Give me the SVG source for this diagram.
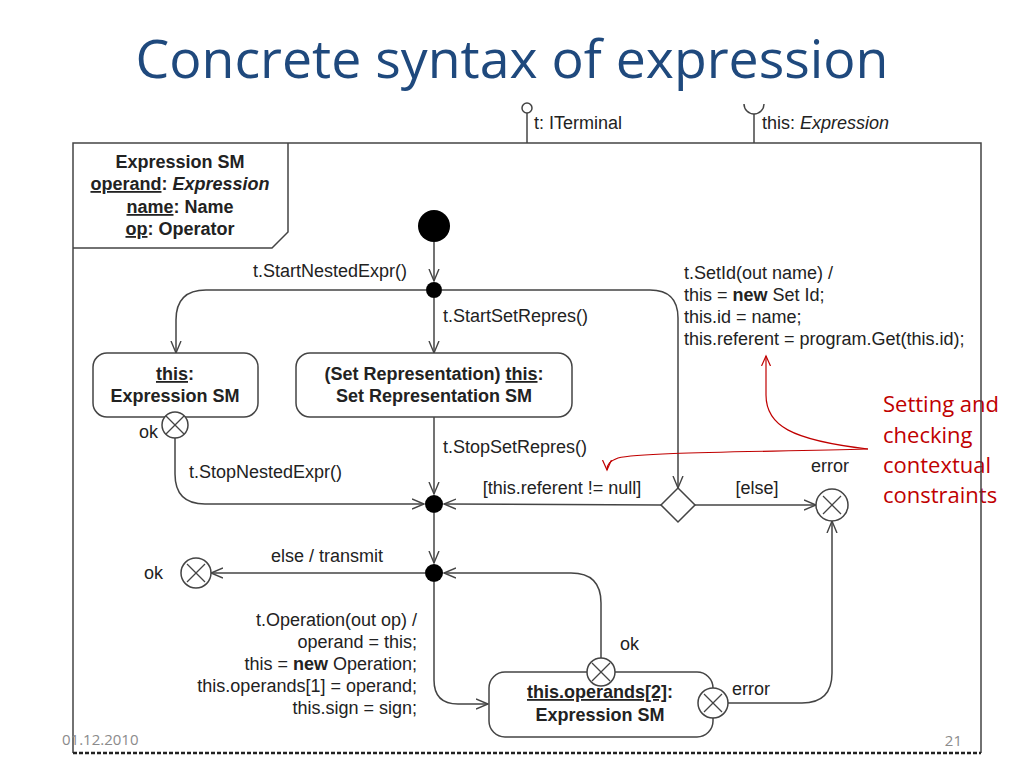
<svg xmlns="http://www.w3.org/2000/svg" width="1024" height="768" viewBox="0 0 1024 768">
<style>
.t{font-family:"Liberation Sans",Arial,sans-serif;font-size:18px;fill:#222}
.b{font-weight:bold}
.i{font-style:italic}
.u{text-decoration:underline}
.ln{fill:none;stroke:#444;stroke-width:1.5}
.ar{fill:none;stroke:#444;stroke-width:1.5;marker-end:url(#arr)}
.st{fill:#fff;stroke:#444;stroke-width:1.5}
.dot{fill:#000}
.red{font-family:"Open Sans","Noto Sans",sans-serif;font-size:22px;fill:#C00000}
.rl{fill:none;stroke:#C00000;stroke-width:1.2;marker-end:url(#rarr)}
.ft{font-family:"Open Sans","Noto Sans",sans-serif;font-size:15px;fill:#8B8B8B}
</style>
<defs>
<marker id="arr" markerUnits="userSpaceOnUse" markerWidth="14" markerHeight="12" refX="12" refY="6" orient="auto">
<path d="M0,1 L12,6 L0,11" fill="none" stroke="#444" stroke-width="1.4"/>
</marker>
<marker id="rarr" markerUnits="userSpaceOnUse" markerWidth="12" markerHeight="12" refX="10" refY="5" orient="auto">
<path d="M0,0.5 L10,5 L0,9.5" fill="none" stroke="#C00000" stroke-width="1.2"/>
</marker>
<g id="xmark">
<line x1="-9" y1="-9" x2="9" y2="9" stroke="#444" stroke-width="1.3"/>
<line x1="-9" y1="9" x2="9" y2="-9" stroke="#444" stroke-width="1.3"/>
</g>
</defs>
<rect width="1024" height="768" fill="#fff"/>

<text id="title" x="512" y="78" text-anchor="middle" font-family="'Open Sans','Noto Sans',sans-serif" font-size="53" fill="#1F497D" textLength="753" lengthAdjust="spacingAndGlyphs">Concrete syntax of expression</text>

<g id="annotation">
<text class="red" x="883" y="412">Setting and</text>
<text class="red" x="883" y="443">checking</text>
<text class="red" x="883" y="473">contextual</text>
<text class="red" x="883" y="503">constraints</text>
</g>

<g id="frame">
<path class="ln" d="M73,753 L73,143 L981,143 L981,753"/>
<line x1="73" y1="753" x2="981" y2="753" stroke="#222" stroke-width="2.5" stroke-dasharray="4 2"/>
<path class="ln" d="M73,248 L272,248 L288,232 L288,143"/>
<text class="t b" x="180" y="168" text-anchor="middle">Expression SM</text>
<text class="t b" x="180" y="190" text-anchor="middle"><tspan class="u">operand</tspan>: <tspan class="i">Expression</tspan></text>
<text class="t b" x="180" y="213" text-anchor="middle"><tspan class="u">name</tspan>: Name</text>
<text class="t b" x="180" y="235" text-anchor="middle"><tspan class="u">op</tspan>: Operator</text>
</g>

<g id="port-terminal">
<circle cx="527" cy="108" r="5" class="st"/>
<line class="ln" x1="527" y1="113" x2="527" y2="143"/>
<text class="t" x="534" y="129">t: ITerminal</text>
</g>
<g id="port-expression">
<path class="ln" d="M744,104 A10,10 0 0 0 764,104"/>
<line class="ln" x1="754" y1="114" x2="754" y2="143"/>
<text class="t" x="762" y="129">this: <tspan class="i">Expression</tspan></text>
</g>

<g id="connectors">
<line class="ar" x1="434" y1="242" x2="434" y2="281"/>
<path class="ar" d="M426,290 L206,290 Q176,290 176,320 L176,353"/>
<line class="ar" x1="434" y1="298" x2="434" y2="353"/>
<path class="ar" d="M442,290 L650,290 Q678,290 678,318 L678,488"/>
<path class="ar" d="M175,438 L175,474 Q175,504 205,504 L424,504"/>
<line class="ar" x1="434" y1="417" x2="434" y2="494"/>
<line class="ar" x1="661" y1="505" x2="444" y2="504"/>
<line class="ar" x1="695" y1="505" x2="816" y2="505"/>
<line class="ar" x1="434" y1="513" x2="434" y2="563"/>
<line class="ar" x1="425" y1="573" x2="211" y2="573"/>
<path class="ar" d="M434,582 L434,680 Q434,704 458,704 L488,704"/>
<path class="ar" d="M601,658 L601,603 Q601,573 571,573 L444,573"/>
<path class="ar" d="M728,703 L802,703 Q832,703 832,673 L832,521"/>
<text class="t" x="407" y="277" text-anchor="end">t.StartNestedExpr()</text>
<text class="t" x="443" y="322">t.StartSetRepres()</text>
<text class="t" x="684" y="279">t.SetId(out name) /</text>
<text class="t" x="684" y="301">this = <tspan class="b">new</tspan> Set Id;</text>
<text class="t" x="684" y="323">this.id = name;</text>
<text class="t" x="684" y="345">this.referent = program.Get(this.id);</text>
<text class="t" x="443" y="453">t.StopSetRepres()</text>
<text class="t" x="189" y="478">t.StopNestedExpr()</text>
<text class="t" x="562" y="494" text-anchor="middle">[this.referent != null]</text>
<text class="t" x="757" y="494" text-anchor="middle">[else]</text>
<text class="t" x="327" y="562" text-anchor="middle">else / transmit</text>
<text class="t" x="417" y="626" text-anchor="end">t.Operation(out op) /</text>
<text class="t" x="417" y="648" text-anchor="end">operand = this;</text>
<text class="t" x="417" y="670" text-anchor="end">this = <tspan class="b">new</tspan> Operation;</text>
<text class="t" x="417" y="692" text-anchor="end">this.operands[1] = operand;</text>
<text class="t" x="417" y="714" text-anchor="end">this.sign = sign;</text>
<path class="rl" d="M868,449 C790,440 766,425 766,395 L766,356"/>
<path class="rl" d="M868,449 C760,452 640,452 618,458 C610,461 607,464 607,470"/>
</g>

<g id="initial"><circle cx="434" cy="226" r="16" class="dot"/></g>
<g id="junction1"><circle cx="434" cy="290" r="8" class="dot"/></g>
<g id="junction2"><circle cx="434" cy="504" r="9" class="dot"/></g>
<g id="junction3"><circle cx="434" cy="573" r="9" class="dot"/></g>

<g id="choice"><path class="st" d="M678,488 L695,505 L678,522 L661,505 Z"/></g>

<g id="state-nested">
<rect class="st" x="93" y="353" width="165" height="64" rx="14"/>
<text class="t b" x="175" y="380" text-anchor="middle"><tspan class="u">this</tspan>:</text>
<text class="t b" x="175" y="402" text-anchor="middle">Expression SM</text>
<circle class="st" cx="175" cy="425" r="13"/>
<use href="#xmark" x="175" y="425"/>
<text class="t" x="158" y="438" text-anchor="end">ok</text>
</g>

<g id="state-setrep">
<rect class="st" x="296" y="353" width="276" height="64" rx="14"/>
<text class="t b" x="434" y="380" text-anchor="middle">(Set Representation) <tspan class="u">this</tspan>:</text>
<text class="t b" x="434" y="402" text-anchor="middle">Set Representation SM</text>
</g>

<g id="exit-error">
<circle class="st" cx="832" cy="505" r="16"/>
<use href="#xmark" x="832" y="505"/>
<text class="t" x="830" y="472" text-anchor="middle">error</text>
</g>

<g id="exit-ok">
<circle class="st" cx="196" cy="573" r="15"/>
<use href="#xmark" x="196" y="573"/>
<text class="t" x="163" y="579" text-anchor="end">ok</text>
</g>

<g id="state-operand2">
<rect class="st" x="489" y="672" width="224" height="65" rx="16"/>
<text class="t b" x="600" y="698" text-anchor="middle"><tspan class="u">this.operands[2]</tspan>:</text>
<text class="t b" x="600" y="721" text-anchor="middle">Expression SM</text>
<circle class="st" cx="601" cy="672" r="14"/>
<use href="#xmark" x="601" y="672"/>
<text class="t" x="620" y="650">ok</text>
<circle class="st" cx="713" cy="703" r="15"/>
<use href="#xmark" x="713" y="703"/>
<text class="t" x="732" y="695">error</text>
</g>

<g id="footer">
<text class="ft" x="62" y="745">01.12.2010</text>
<text class="ft" x="962" y="746" text-anchor="end">21</text>
</g>
</svg>
